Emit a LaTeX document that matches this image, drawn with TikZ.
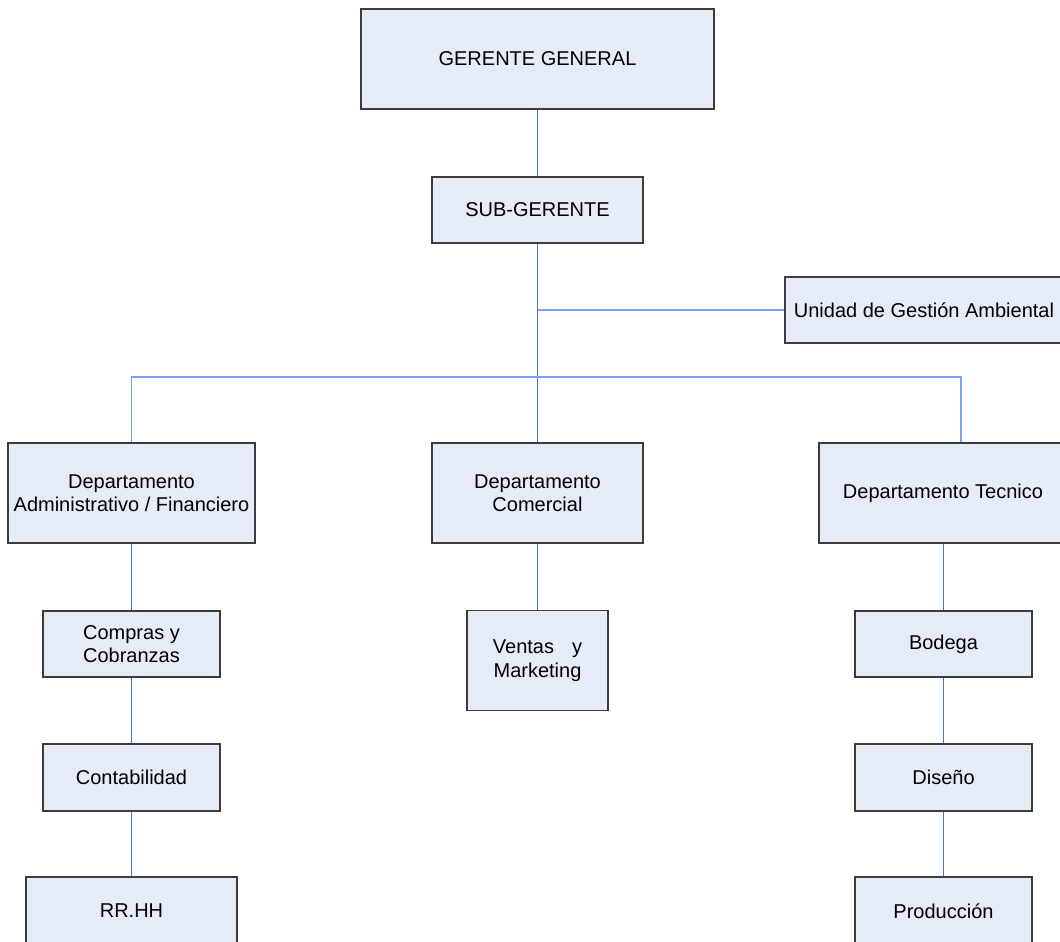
\documentclass[tikz,border=0pt]{standalone}
\usepackage{fontspec}
\setmainfont{Liberation Sans}
\begin{document}
\begin{tikzpicture}[x=1pt,y=-1pt,
  orgbox/.style={draw={rgb,255:red,60;green,60;blue,60}, line width=1.1pt,
    fill={rgb,255:red,230;green,236;blue,247}, inner sep=0pt, align=center,
    font=\fontsize{20}{23.5}\selectfont},
  vline/.style={draw={rgb,255:red,75;green,110;blue,215}, line width=0.8pt},
  hline/.style={draw={rgb,255:red,125;green,160;blue,245}, line width=1.2pt}]
\useasboundingbox (0,0) rectangle (1060,942);
\clip (0,0) rectangle (1060,942);
\fill[white] (0,0) rectangle (1060,942);

% boxes
\node[orgbox, minimum width=353pt, minimum height=100pt] (gg)  at (537.5,59)  {GERENTE GENERAL};
\node[orgbox, minimum width=211pt, minimum height=66pt]  (sub) at (537.5,210) {SUB-GERENTE};
\node[orgbox, minimum width=278pt, minimum height=66pt]  (uga) at (924,310)   {Unidad de Gestión Ambiental};
\node[orgbox, minimum width=247pt, minimum height=100pt] (adm) at (131.5,493) {Departamento\\Administrativo / Financiero};
\node[orgbox, minimum width=211pt, minimum height=100pt] (com) at (537.5,493) {Departamento\\Comercial};
\node[orgbox, minimum width=248pt, minimum height=100pt] (tec) at (943,493)   {Departamento Tecnico};
\node[orgbox, minimum width=177pt, minimum height=66pt]  (cmp) at (131.5,644) {Compras y\\Cobranzas};
\node[orgbox, minimum width=141pt, minimum height=100pt] (ven) at (537.5,660.5) {Ventas\hspace{18pt}y\\Marketing};
\node[orgbox, minimum width=177pt, minimum height=66pt]  (bod) at (943.5,644) {Bodega};
\node[orgbox, minimum width=177pt, minimum height=67pt]  (con) at (131.5,777.5) {Contabilidad};
\node[orgbox, minimum width=177pt, minimum height=67pt]  (dis) at (943.5,777.5) {Diseño};
\node[orgbox, minimum width=211pt, minimum height=68pt]  (rrh) at (131.5,911) {RR.HH};
\node[orgbox, minimum width=177pt, minimum height=68pt]  (pro) at (943.5,911) {Producción};

% junction points
\coordinate (j1) at (537.5,310);
\coordinate (busR) at (961,377);

% connectors
\draw[vline] (gg.south) -- (sub.north);
\draw[vline] (sub.south) -- (com.north);
\draw[hline] (j1) -- (uga.west);
\draw[hline] (adm.north) |- (busR) -- (busR |- tec.north);
\draw[vline] (adm.south) -- (cmp.north);
\draw[vline] (cmp.south) -- (con.north);
\draw[vline] (con.south) -- (rrh.north);
\draw[vline] (com.south) -- (ven.north);
\draw[vline] (tec.south) -- (tec.south |- bod.north);
\draw[vline] (bod.south) -- (dis.north);
\draw[vline] (dis.south) -- (pro.north);
\end{tikzpicture}
\end{document}
